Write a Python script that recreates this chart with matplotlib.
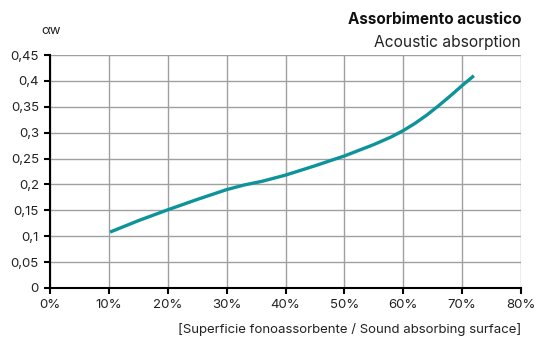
import matplotlib
matplotlib.use("Agg")
import matplotlib.pyplot as plt

plt.rcParams['font.family'] = ['Inter', 'DejaVu Sans']

surface_pct = [10.2, 15, 20, 25, 30, 33, 36, 40, 45, 50, 55, 58, 60, 62, 64, 66, 68, 70, 72]
alpha_w = [0.108, 0.130, 0.151, 0.171, 0.190, 0.199, 0.206, 0.218, 0.236, 0.255, 0.277, 0.292, 0.304, 0.318, 0.334, 0.352, 0.371, 0.391, 0.410]

x_ticks = [0, 10, 20, 30, 40, 50, 60, 70, 80]
x_labels = ['0%', '10%', '20%', '30%', '40%', '50%', '60%', '70%', '80%']
y_ticks = [0, 0.05, 0.1, 0.15, 0.2, 0.25, 0.3, 0.35, 0.4, 0.45]
y_labels = ['0', '0,05', '0,1', '0,15', '0,2', '0,25', '0,3', '0,35', '0,4', '0,45']

fig = plt.figure(figsize=(5.35, 3.43), dpi=100)
ax = fig.add_axes([50/535, 1-288/343, (521-50)/535, (288-55)/343])

ax.plot(surface_pct, alpha_w, color='#0e939b', linewidth=2.4, solid_capstyle='butt',
        solid_joinstyle='round', zorder=3)

ax.set_xlim(0, 80)
ax.set_ylim(0, 0.45)
ax.set_xticks(x_ticks)
ax.set_xticklabels(x_labels)
ax.set_yticks(y_ticks)
ax.set_yticklabels(y_labels)
ax.grid(True, color='#a0a0a0', linewidth=1.0)
ax.set_axisbelow(True)
for s in ['top', 'right']:
    ax.spines[s].set_visible(False)
for s in ['left', 'bottom']:
    ax.spines[s].set_color('black')
    ax.spines[s].set_linewidth(1.5)
ax.tick_params(axis='both', direction='out', length=4, width=1.5, color='black',
               labelsize=9.5, labelcolor='#222222', pad=4)

fig.text(41/535, 1-31/343, 'αw', fontsize=9.5, color='#222222', ha='left', va='center')
fig.text(521/535, 1-19/343, 'Assorbimento acustico', fontsize=11, fontweight='bold',
         color='#111111', ha='right', va='center')
fig.text(521/535, 1-42/343, 'Acoustic absorption', fontsize=11.2, color='#222222',
         ha='right', va='center')
fig.text(521/535, 1-330/343, '[Superficie fonoassorbente / Sound absorbing surface]',
         fontsize=9.5, color='#222222', ha='right', va='center')

fig.savefig('out.png', dpi=100)
